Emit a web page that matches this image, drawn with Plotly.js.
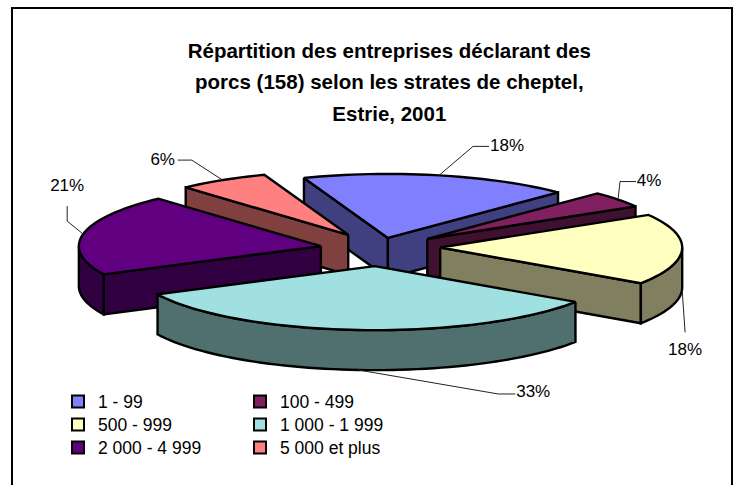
<!DOCTYPE html>
<html><head><meta charset="utf-8">
<script src="https://cdn.plot.ly/plotly-3.0.1.min.js"></script>
<style>html,body{margin:0;padding:0;background:#fff;overflow:hidden}#c{width:736px;height:485px}</style>
</head><body><div id="c"></div>
<script>
// Data
const categories = ['1 - 99','100 - 499','500 - 999','1 000 - 1 999','2 000 - 4 999','5 000 et plus'];
const shares = [18.1,4.1,18.0,33.4,20.6,6.1];
const percentLabels = ['18%','4%','18%','33%','21%','6%'];
const topColors = ['#8080FF','#802060','#FFFFC0','#A0E0E0','#600080','#FF8080'];
const sideColors = ['#404080','#401030','#808060','#507070','#300040','#804040'];
const titleLines = ['Répartition des entreprises déclarant des','porcs (158) selon les strates de cheptel,','Estrie, 2001'];

// Pie projection (pixel-scaled axes)
const CX=379, CY=252, RX=242, RY=64, EXPLODE=0.253, DEPTH=40, LIFT=5, START=-20.3;
const FONT='"Liberation Sans", Arial, sans-serif';
const total = shares.reduce((a,b)=>a+b,0);
const drawOrder=[0,1,2,5,4,3];
const nudge=[[-4,2],[0,0],[0,0],[0,-2],[2,2],[1,-2]];
const rad=d=>d*Math.PI/180;

let cum=START;
const slices=shares.map((s,i)=>{
  const a0=cum, a1=cum+s/total*360; cum=a1;
  const mid=rad((a0+a1)/2);
  return {i,a0,a1,mid,
    ax:CX+EXPLODE*RX*Math.sin(mid)+nudge[i][0],
    ay:CY-EXPLODE*RY*Math.cos(mid)-LIFT*Math.sin(mid)**2+nudge[i][1]};
});
const pt=(s,deg,dz=0)=>[s.ax+RX*Math.sin(rad(deg)), s.ay-RY*Math.cos(rad(deg))+dz];
function arc(s,d0,d1,dz=0){
  const n=Math.max(2,Math.ceil(Math.abs(d1-d0)/2)),o=[];
  for(let k=0;k<=n;k++) o.push(pt(s,d0+(d1-d0)*k/n,dz));
  return o;
}
const traces=[];
function poly(points,fill,name){
  const xs=points.map(p=>p[0]),ys=points.map(p=>p[1]);
  xs.push(xs[0]);ys.push(ys[0]);
  traces.push({type:'scatter',mode:'lines',x:xs,y:ys,fill:'toself',fillcolor:fill,
    line:{color:'#000',width:2.4,simplify:false},showlegend:false,hoverinfo:'skip',name});
}
drawOrder.forEach(idx=>{
  const s=slices[idx], side=sideColors[idx], name=categories[idx];
  const A=[s.ax,s.ay], Ab=[s.ax,s.ay+DEPTH];
  if(Math.sin(rad(s.a0))<0){const p=pt(s,s.a0),q=pt(s,s.a0,DEPTH);poly([A,p,q,Ab],side,name);}
  if(Math.sin(rad(s.a1))>0){const p=pt(s,s.a1),q=pt(s,s.a1,DEPTH);poly([A,p,q,Ab],side,name);}
  const lo=Math.max(s.a0,90), hi=Math.min(s.a1,270);
  if(hi>lo) poly(arc(s,lo,hi).concat(arc(s,hi,lo,DEPTH)),side,name);
  poly([A].concat(arc(s,s.a0,s.a1)),topColors[idx],name);
});

// Leader lines: elbow and end offsets from each slice's mid-arc point
const leaderShape=[[34,-29,16,0],[2,-18,16,0],[3,43,0,0],[140,24,17,0],[-16,-13,0,-15],[-31,-20,-14,0]];
const leaderDepth=[0,0,DEPTH,DEPTH,0,0];
const labelGap=[[18,0],[13,0],[0,18],[18,-1],[0,-19],[-15,1]];
const labX=[],labY=[];
slices.forEach((s,i)=>{
  const m=s.mid*180/Math.PI, st=pt(s,m,leaderDepth[i]), [dx,dy,ex,ey]=leaderShape[i];
  const el=[st[0]+dx,st[1]+dy], en=[el[0]+ex,el[1]+ey];
  traces.push({type:'scatter',mode:'lines',x:[st[0],el[0],en[0]],y:[st[1],el[1],en[1]],
    line:{color:'#222',width:1},showlegend:false,hoverinfo:'skip'});
  labX.push(en[0]+labelGap[i][0]); labY.push(en[1]+labelGap[i][1]);
});
traces.push({type:'scatter',mode:'text',x:labX,y:labY,text:percentLabels,textposition:'middle center',
  textfont:{family:FONT,size:17,color:'#000'},showlegend:false,hoverinfo:'skip',cliponaxis:false});

// Legend entries
categories.forEach((c,i)=>{
  traces.push({type:'scatter',mode:'markers',x:[null],y:[null],
    name:'<span style="font-size:17.5px">'+c+'</span>',
    legend:i%2===0?'legend':'legend2',
    marker:{symbol:'square',size:12,color:topColors[i],line:{color:'#000',width:2}}});
});

const legendBase=(x)=>({x,y:1-385/485,xanchor:'left',yanchor:'top',orientation:'v',
  bgcolor:'rgba(0,0,0,0)',font:{family:FONT,size:15.4,color:'#000'},itemclick:false,itemdoubleclick:false,
  traceorder:'normal',tracegroupgap:0});

const layout={
  width:736,height:485,margin:{l:0,r:0,t:0,b:0},paper_bgcolor:'#fff',plot_bgcolor:'#fff',
  showlegend:true,
  title:{text:titleLines.map(t=>'<span style="font-size:20.5px">'+t+'</span>').join('<br>'),
    font:{family:FONT,size:24.2,color:'#000',weight:700},x:0.529,xanchor:'center',y:1-58/485,yanchor:'top',yref:'container'},
  xaxis:{range:[0,736],visible:false,fixedrange:true},
  yaxis:{range:[485,0],visible:false,fixedrange:true},
  legend:legendBase(58/736),
  legend2:legendBase(240/736),
  shapes:[{type:'rect',xref:'paper',yref:'paper',x0:12/736,x1:732/736,y0:1-8/485,y1:-0.05,
    line:{color:'#000',width:2},fillcolor:'rgba(0,0,0,0)',layer:'below'}]
};
Plotly.newPlot('c',traces,layout,{displayModeBar:false,staticPlot:true});
</script></body></html>
